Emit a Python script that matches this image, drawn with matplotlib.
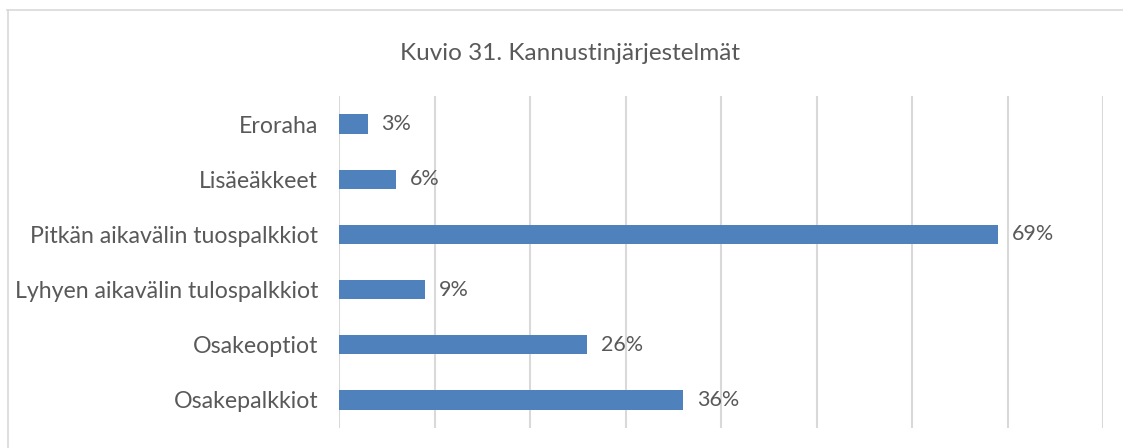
import matplotlib
matplotlib.use('Agg')
import matplotlib.pyplot as plt
from matplotlib.lines import Line2D

# Kuvio 31 - kannustinjärjestelmät (osuus vastaajista, %)
categories = [
    "Osakepalkkiot",
    "Osakeoptiot",
    "Lyhyen aikavälin tulospalkkiot",
    "Pitkän aikavälin tuospalkkiot",
    "Lisäeäkkeet",
    "Eroraha",
]
values = [36, 26, 9, 69, 6, 3]

TEXT = '#595959'
BAR = '#4F81BD'
GRID = '#D9D9D9'

plt.rcParams['font.family'] = ['Lato', 'DejaVu Sans']

fig = plt.figure(figsize=(11.23, 4.48), dpi=100)
ax = fig.add_axes([339 / 1123, 20.5 / 448, (1103 - 339) / 1123, (427.5 - 96.5) / 448])

y = list(range(len(categories)))
ax.barh(y, values, height=0.35, color=BAR, zorder=3)
for yi, v in zip(y, values):
    ax.annotate(f"{v}%", (v, yi), xytext=(10, 0), textcoords='offset points',
                va='center', ha='left', fontsize=15.5, color=TEXT)

ax.set_xlim(0, 80)
ax.set_ylim(-0.5, len(categories) - 0.5)
ax.set_xticks(range(0, 81, 10))
ax.set_xticklabels([])
ax.tick_params(axis='x', length=0)
ax.set_yticks(y)
ax.set_yticklabels(categories, fontsize=16.7, color=TEXT)
ax.tick_params(axis='y', length=0, pad=15)
ax.grid(axis='x', color=GRID, linewidth=1.5, zorder=0)
for s in ax.spines.values():
    s.set_visible(False)

fig.text(570 / 1123, 1 - 53 / 448, "Kuvio 31. Kannustinjärjestelmät",
         ha='center', va='center', fontsize=17.5, color=TEXT)

# kaavion reunus (vain ylä- ja vasen reuna näkyvissä)
fig.add_artist(Line2D([7 / 1123, 1.0], [1 - 10.5 / 448] * 2,
                      transform=fig.transFigure, color=GRID, linewidth=1.2))
fig.add_artist(Line2D([7.5 / 1123] * 2, [0, 1 - 10.5 / 448],
                      transform=fig.transFigure, color=GRID, linewidth=1.2))

fig.savefig('out.png', dpi=100)
